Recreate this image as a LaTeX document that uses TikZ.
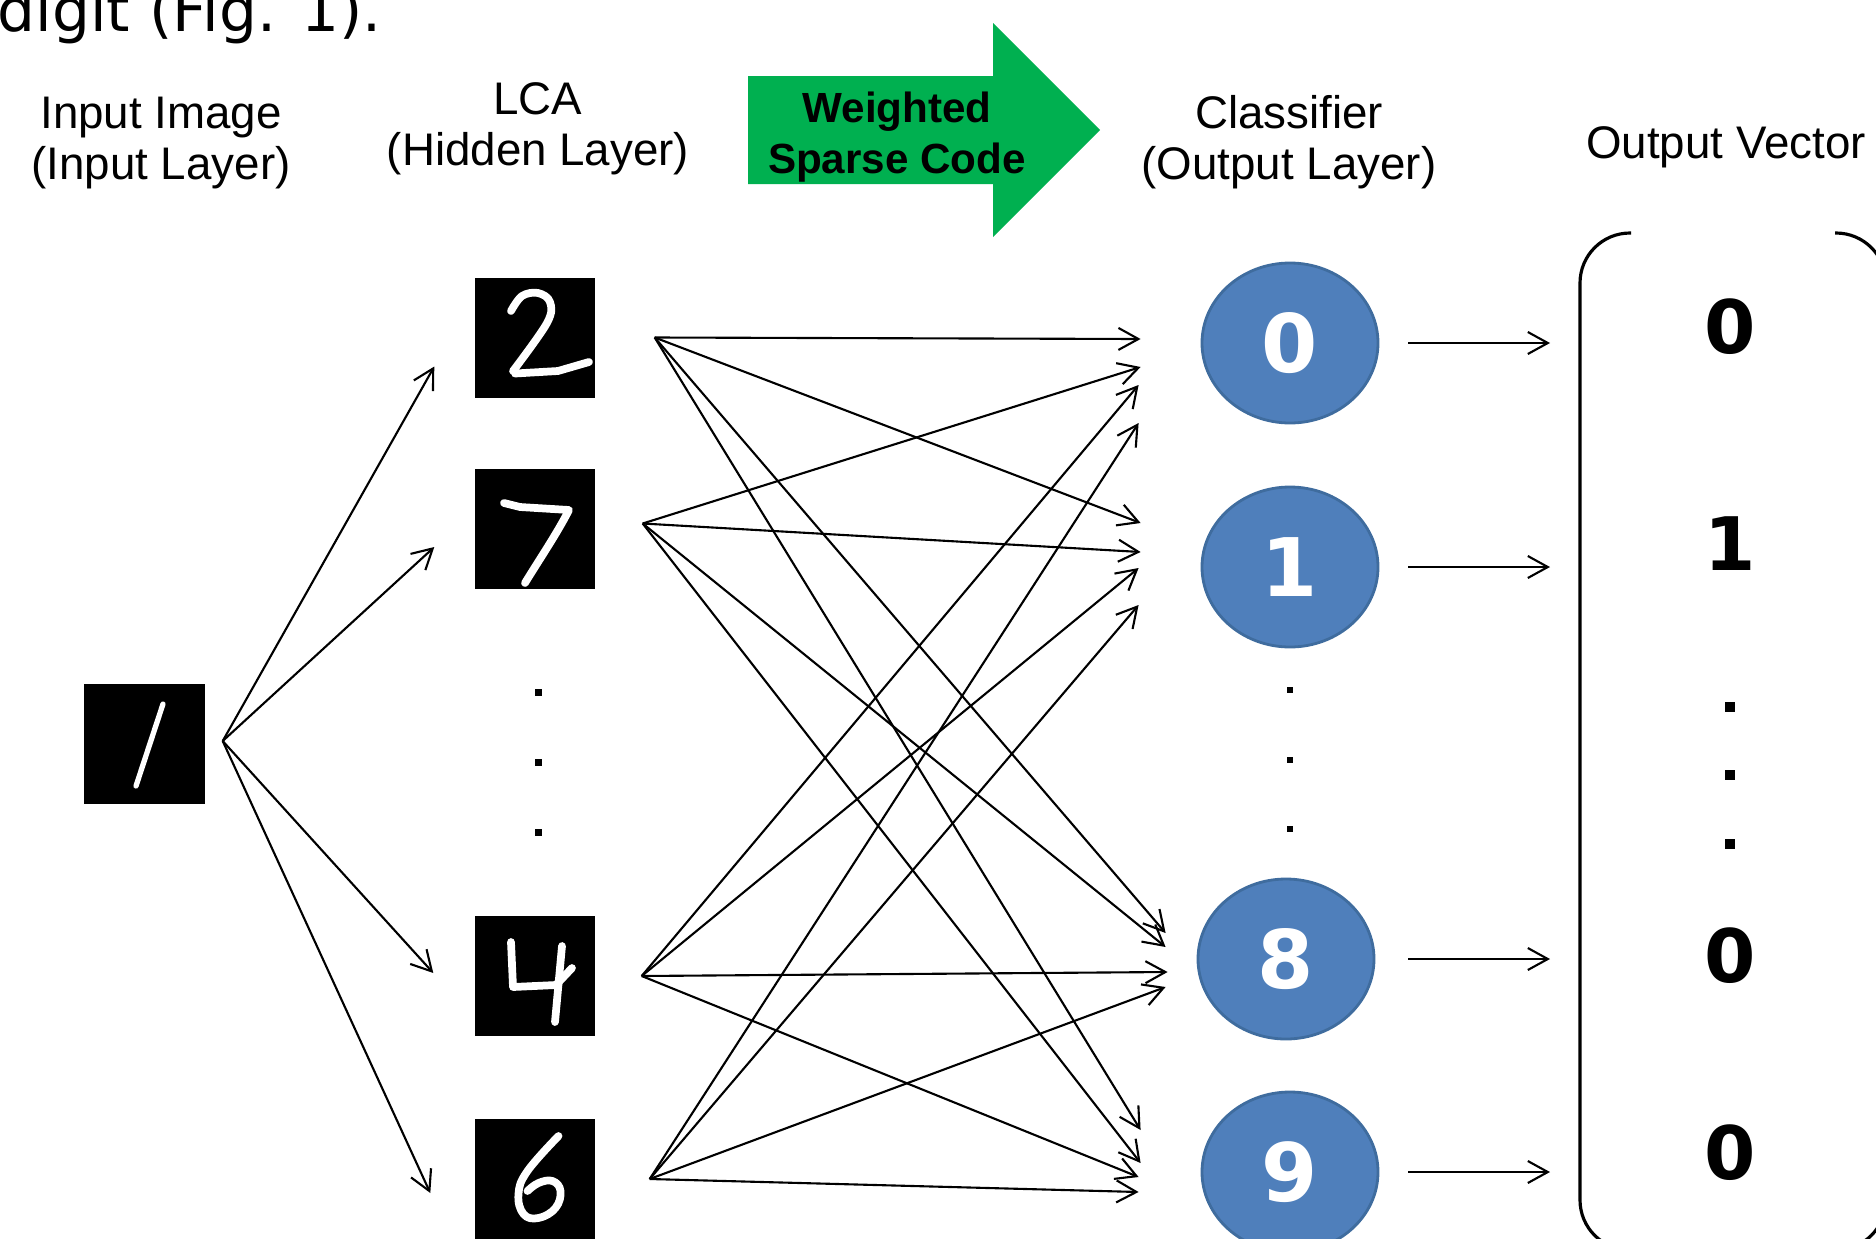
\documentclass[tikz,border=0pt]{standalone}
\usepackage{fontspec}
\setmainfont{Liberation Sans}
\newfontfamily\capfont{DejaVu Sans}
\usepackage{xcolor}
\definecolor{codegreen}{HTML}{00B050}
\definecolor{unitfill}{HTML}{4F7FBB}
\definecolor{unitdraw}{HTML}{3F6C9E}
\usetikzlibrary{arrows.meta,positioning,calc,shapes.geometric}
\tikzset{
  lbl/.style      = {font=\fontsize{13}{14.5}\selectfont,align=center,inner sep=0pt},
  digitbox/.style = {fill=black,minimum width=12mm,minimum height=12mm,inner sep=0pt},
  ink/.style      = {white,line width=2.2pt,line cap=round,line join=round},
  unit/.style     = {ellipse,draw=unitdraw,fill=unitfill,line width=0.8pt,
                     minimum width=17.6mm,minimum height=16mm,inner sep=0pt,
                     text=white,font=\capfont\bfseries\fontsize{23}{23}\selectfont},
  entry/.style    = {font=\capfont\bfseries\fontsize{21}{21}\selectfont,inner sep=0pt},
  vdot/.style     = {fill=black,minimum size=0.7mm,inner sep=0pt},
  conn/.style     = {-{Straight Barb[length=2mm,width=2.2mm]},line width=0.6pt},
}

\begin{document}
\begin{tikzpicture}
    \useasboundingbox (0,0) rectangle (18.76,-12.38);
    \clip (0,0) rectangle (18.76,-12.38);
    % caption line cut by the page edge
    \node[anchor=base west,inner sep=0pt,font=\capfont\fontsize{17}{17}\selectfont]
          (cap) at (-0.03,-0.31) {digit (Fig. 1).};

    % layer titles
    \node[lbl] (tin)  at (1.61,-1.43)  {Input Image\\(Input Layer)};
    \node[lbl] (tlca) at (5.38,-1.29)  {LCA\\(Hidden Layer)};
    \node[lbl] (tcls) at (12.89,-1.42) {Classifier\\(Output Layer)};
    \node[lbl] (tout) at (17.26,-1.47) {Output Vector};

    % green block arrow
    \fill[codegreen] (7.48,-0.76) -- (9.93,-0.76) -- (9.93,-0.23) -- (11.00,-1.30)
          -- (9.93,-2.37) -- (9.93,-1.84) -- (7.48,-1.84) -- cycle;
    \node[font=\bfseries\fontsize{12}{14.5}\selectfont,align=center,inner sep=0pt]
          (wsc) at (8.97,-1.37) {Weighted\\Sparse Code};

    % input image and LCA units
    \node[digitbox,minimum width=12.1mm] (i1) at (1.445,-7.44) {};
    \node[digitbox] (h2) at (5.35,-3.375) {};
    \node[digitbox] (h7) at (5.35,-5.285) {};
    \node[digitbox] (h4) at (5.35,-9.76) {};
    \node[digitbox] (h6) at (5.35,-11.79) {};

    % handwritten digits
    \draw[ink,line width=1.5pt,shift={(i1.center)}] (0.185,0.40) -- (-0.085,-0.42);
    \draw[ink,shift={(h2.center)}] plot[smooth,tension=0.6] coordinates
          {(-0.24,0.265) (-0.13,0.415) (0.03,0.445) (0.15,0.355) (0.12,0.145) (-0.22,-0.335)};
    \draw[ink,shift={(h2.center)}] (-0.20,-0.36) -- (0.23,-0.335) -- (0.54,-0.245);
    \draw[ink,shift={(h7.center)}] (-0.31,0.255) -- (-0.15,0.215) -- (0.34,0.185)
          .. controls (0.22,-0.05) and (0.05,-0.3) .. (-0.10,-0.545);
    \draw[ink,shift={(h4.center)}] (-0.24,0.34) -- (-0.22,-0.11) -- (0.21,-0.09) -- (0.37,0.08);
    \draw[ink,shift={(h4.center)}] (0.27,0.30) -- (0.20,-0.46);
    \draw[ink,shift={(h6.center)}] plot[smooth,tension=0.7] coordinates
          {(0.235,0.43) (-0.075,0.08) (-0.165,-0.15) (-0.115,-0.35) (0.035,-0.39)
           (0.205,-0.29) (0.255,-0.12) (0.175,-0.02) (0.035,-0.04) (-0.075,-0.12)};

    % elided units
    \foreach \y in {-6.92,-7.62,-8.32} \node[vdot] at (5.38,\y) {};
    \foreach \y in {-6.90,-7.60,-8.29} \node[vdot,minimum size=0.6mm] at (12.90,\y) {};

    % classifier units
    \node[unit] (c0) at (12.90,-3.43)  {0};
    \node[unit] (c1) at (12.90,-5.67)  {1};
    \node[unit] (c8) at (12.86,-9.59)  {8};
    \node[unit] (c9) at (12.90,-11.72) {9};

    % input -> LCA
    \coordinate (o1) at ([xshift=1.7mm,yshift=0.3mm]i1.east);
    \foreach \t/\dx/\dy in {h2/-4/-2.9, h7/-4/-1.85, h4/-4.1/0.3, h6/-4.4/-1.4}
      \draw[conn] (o1) -- ([xshift=\dx mm,yshift=\dy mm]\t.west);

    % LCA -> classifier, all to all
    \coordinate (o2) at ([xshift=5.9mm]h2.east);
    \coordinate (o7) at ([xshift=4.7mm,yshift=0.5mm]h7.east);
    \coordinate (o4) at ([xshift=4.6mm]h4.east);
    \coordinate (o6) at ([xshift=5.4mm]h6.east);
    \foreach \s/\t/\dx/\dy in {o2/c0/-6/0.4, o7/c0/-6/-2.4, o4/c0/-6.2/-4.2, o6/c0/-6.2/-8.0,
                               o2/c1/-6/4.4, o7/c1/-6/1.5, o4/c1/-6.2/-0.1, o6/c1/-6.2/-3.8,
                               o2/c8/-3.1/2.6, o7/c8/-3.1/1.2, o4/c8/-2.9/-1.3, o6/c8/-3.1/-2.8,
                               o2/c9/-6/4.2, o7/c9/-6/0.9, o4/c9/-6.2/-0.5, o6/c9/-6.2/-2.0}
      \draw[conn] (\s) -- ([xshift=\dx mm,yshift=\dy mm]\t.west);

    % output vector
    \coordinate (ol) at (14.08,0);
    \coordinate (or) at (15.50,0);
    \foreach \c in {c0,c1,c8,c9}
      \draw[conn] (\c.center -| ol) -- (\c.center -| or);
    \draw[line width=0.9pt,rounded corners=5mm] (16.31,-2.33) -- (15.80,-2.33)
          -- (15.80,-12.50) -- (16.31,-12.50);
    \draw[line width=0.9pt,rounded corners=5mm] (18.35,-2.33) -- (18.86,-2.33)
          -- (18.86,-12.50) -- (18.35,-12.50);
    \node[entry] (v0) at (17.30,-3.27)  {0};
    \node[entry] (v1) at (17.30,-5.44)  {1};
    \node[entry] (v8) at (17.30,-9.56)  {0};
    \node[entry] (v9) at (17.30,-11.53) {0};
    \foreach \y in {-7.07,-7.75,-8.44} \node[vdot,minimum size=1mm] at (17.30,\y) {};
\end{tikzpicture}
\end{document}
